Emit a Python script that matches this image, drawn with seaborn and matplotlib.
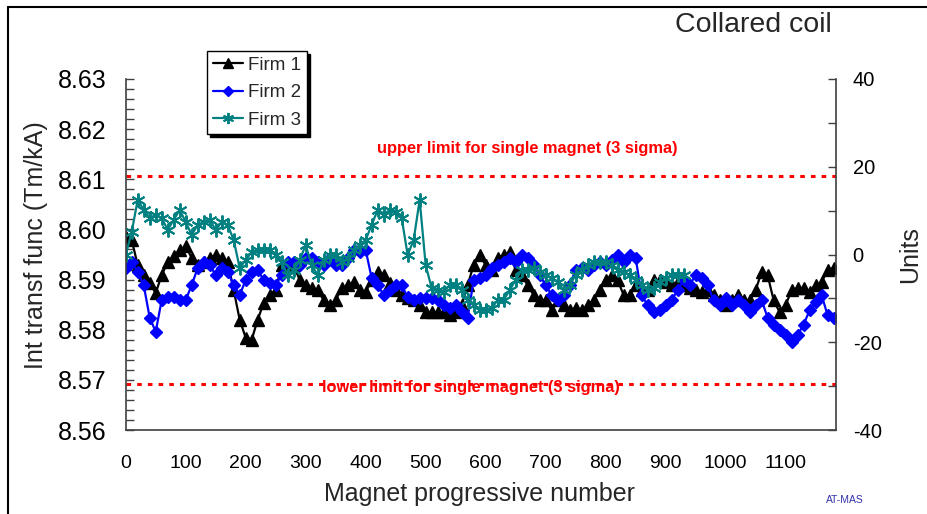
import numpy as np
import pandas as pd
import matplotlib.pyplot as plt
import seaborn as sns
from matplotlib.ticker import MultipleLocator, FormatStrFormatter
from matplotlib.lines import Line2D

# integrated transfer function (Tm/kA), read every 10th magnet
firm1 = [8.5985, 8.5979, 8.5929, 8.5909, 8.5893, 8.5873, 8.5909, 8.5935, 8.5947, 8.5959,
         8.5967, 8.5943, 8.5929, 8.5935, 8.5943, 8.5949, 8.5943, 8.5935, 8.5879, 8.5820,
         8.5784, 8.5780, 8.5820, 8.5853, 8.5869, 8.5879, 8.5929, 8.5929, 8.5929, 8.5899,
         8.5889, 8.5883, 8.5879, 8.5859, 8.5849, 8.5859, 8.5883, 8.5889, 8.5895, 8.5879,
         8.5875, 8.5899, 8.5915, 8.5909, 8.5893, 8.5879, 8.5869, 8.5863, 8.5859, 8.5849,
         8.5835, 8.5835, 8.5835, 8.5835, 8.5829, 8.5835, 8.5849, 8.5889, 8.5929, 8.5949,
         8.5929, 8.5919, 8.5943, 8.5949, 8.5955, 8.5919, 8.5909, 8.5889, 8.5869, 8.5859,
         8.5859, 8.5839, 8.5859, 8.5849, 8.5839, 8.5843, 8.5839, 8.5849, 8.5859, 8.5879,
         8.5899, 8.5909, 8.5899, 8.5869, 8.5869, 8.5889, 8.5879, 8.5879, 8.5899, 8.5899,
         8.5895, 8.5889, 8.5895, 8.5889, 8.5883, 8.5879, 8.5875, 8.5879, 8.5869, 8.5859,
         8.5849, 8.5859, 8.5869, 8.5859, 8.5859, 8.5879, 8.5915, 8.5909, 8.5859, 8.5835,
         8.5849, 8.5879, 8.5883, 8.5883, 8.5875, 8.5889, 8.5895, 8.5919, 8.5923]

firm2 = [8.5923, 8.5935, 8.5915, 8.5889, 8.5824, 8.5796, 8.5859, 8.5865, 8.5865, 8.5859,
         8.5859, 8.5889, 8.5923, 8.5935, 8.5929, 8.5909, 8.5923, 8.5915, 8.5889, 8.5869,
         8.5899, 8.5915, 8.5919, 8.5899, 8.5893, 8.5889, 8.5909, 8.5935, 8.5935, 8.5929,
         8.5943, 8.5943, 8.5935, 8.5929, 8.5943, 8.5929, 8.5929, 8.5943, 8.5959, 8.5955,
         8.5959, 8.5903, 8.5889, 8.5869, 8.5879, 8.5889, 8.5889, 8.5865, 8.5859, 8.5863,
         8.5863, 8.5863, 8.5859, 8.5849, 8.5843, 8.5849, 8.5835, 8.5824, 8.5899, 8.5903,
         8.5909, 8.5923, 8.5929, 8.5935, 8.5943, 8.5935, 8.5949, 8.5943, 8.5929, 8.5909,
         8.5889, 8.5869, 8.5859, 8.5869, 8.5889, 8.5919, 8.5923, 8.5919, 8.5929, 8.5935,
         8.5929, 8.5939, 8.5949, 8.5935, 8.5949, 8.5943, 8.5869, 8.5849, 8.5835, 8.5839,
         8.5849, 8.5859, 8.5879, 8.5899, 8.5889, 8.5909, 8.5903, 8.5889, 8.5859, 8.5849,
         8.5863, 8.5849, 8.5859, 8.5849, 8.5835, 8.5849, 8.5859, 8.5824, 8.5810, 8.5800,
         8.5790, 8.5776, 8.5790, 8.5810, 8.5839, 8.5855, 8.5869, 8.5829, 8.5824]

firm3 = [8.5949, 8.5995, 8.6059, 8.6039, 8.6023, 8.6029, 8.6023, 8.5999, 8.6019, 8.6039,
         8.6015, 8.5989, 8.6009, 8.6015, 8.6019, 8.5999, 8.6015, 8.6009, 8.5979, 8.5923,
         8.5939, 8.5955, 8.5959, 8.5959, 8.5959, 8.5949, 8.5935, 8.5909, 8.5919, 8.5939,
         8.5969, 8.5929, 8.5909, 8.5939, 8.5949, 8.5949, 8.5935, 8.5943, 8.5959, 8.5969,
         8.5979, 8.6009, 8.6039, 8.6029, 8.6039, 8.6035, 8.6023, 8.5949, 8.5979, 8.6059,
         8.5929, 8.5883, 8.5879, 8.5875, 8.5889, 8.5889, 8.5879, 8.5859, 8.5849, 8.5839,
         8.5839, 8.5843, 8.5859, 8.5859, 8.5879, 8.5899, 8.5919, 8.5919, 8.5923, 8.5915,
         8.5909, 8.5903, 8.5895, 8.5879, 8.5889, 8.5909, 8.5919, 8.5929, 8.5935, 8.5935,
         8.5935, 8.5929, 8.5919, 8.5915, 8.5909, 8.5899, 8.5889, 8.5879, 8.5883, 8.5895,
         8.5903, 8.5909, 8.5909, 8.5909]

STEP = 10
upper_limit = 8.6107
lower_limit = 8.5691

sns.set_style("white")
plt.rcParams['font.family'] = ['Liberation Sans', 'DejaVu Sans']
plt.rcParams['axes.unicode_minus'] = False

fig = plt.figure(figsize=(9.28, 5.14), dpi=100)
ax = fig.add_axes([125.7 / 928, 1 - 430 / 514, (836 - 125.7) / 928, 351 / 514])

series = [
    ("Firm 1", firm1, "black", "^", 8.5, 1.0),
    ("Firm 2", firm2, "#0000ff", "D", 6.5, 1.0),
    ("Firm 3", firm3, "#008080", (6, 2, 0), 10, 1.4),
]
for name, vals, col, mk, ms, mew in series:
    df = pd.DataFrame({"magnet": np.arange(len(vals)) * STEP, "tf": vals})
    sns.lineplot(data=df, x="magnet", y="tf", ax=ax, color=col, lw=1.6,
                 marker=mk, markersize=ms, markeredgecolor=col, markerfacecolor=col,
                 markeredgewidth=mew, label=name)

# 3 sigma limits
for lim in (upper_limit, lower_limit):
    ax.axhline(lim, color="red", lw=2.2, ls=(0, (1.5, 2)))
ax.text(670, 8.6162, "upper limit for single magnet (3 sigma)", color="red",
        fontsize=11.8, fontweight="bold", ha="center", va="center")
ax.text(575, 8.5684, "lower limit for single magnet (3 sigma)", color="red",
        fontsize=11.8, fontweight="bold", ha="center", va="center")

ax.set_xlim(0, 1184)
ax.set_ylim(8.56, 8.63)
ax.xaxis.set_major_locator(MultipleLocator(100))
ax.xaxis.set_minor_locator(MultipleLocator(50))
ax.yaxis.set_major_locator(MultipleLocator(0.01))
ax.yaxis.set_minor_locator(MultipleLocator(0.002))
ax.yaxis.set_major_formatter(FormatStrFormatter("%.2f"))
ax.tick_params(axis="y", which="both", direction="in", length=6, width=1,
               labelsize=18, pad=14, colors="#404040", labelcolor="black")
ax.tick_params(axis="x", which="both", direction="in", length=6, width=1,
               labelsize=14, pad=18, colors="#404040", labelcolor="black")
ax.set_xlabel("")
ax.set_ylabel("")
for s in ("top", "right"):
    ax.spines[s].set_visible(False)
for s in ("left", "bottom"):
    ax.spines[s].set_color("#404040")
    ax.spines[s].set_linewidth(1.2)

ax2 = ax.twinx()
ax2.set_ylim(-40, 40)
ax2.yaxis.set_major_locator(MultipleLocator(20))
ax2.yaxis.set_minor_locator(MultipleLocator(10))
ax2.tick_params(axis="y", which="both", direction="in", length=6, width=1,
                labelsize=14.5, pad=12, colors="#404040", labelcolor="black")
for s in ("top", "left", "bottom"):
    ax2.spines[s].set_visible(False)
ax2.spines["right"].set_color("#404040")
ax2.spines["right"].set_linewidth(1.2)

handles, labels = ax.get_legend_handles_labels()
leg = ax.legend(handles, labels, loc="upper left", bbox_to_anchor=(207 / 928, 1 - 51 / 514),
                bbox_transform=fig.transFigure, borderaxespad=0, fontsize=13.5,
                frameon=True, fancybox=False, edgecolor="black", framealpha=1,
                shadow={"color": "black", "alpha": 1}, handlelength=1.6,
                labelspacing=0.55, handletextpad=0.3, borderpad=0.3, markerscale=0.8)
leg.get_frame().set_linewidth(1.0)

fig.text(36 / 928, 1 - 245 / 514, "Int transf func (Tm/kA)", rotation=90,
         ha="center", va="center", fontsize=18)
fig.text(910 / 928, 1 - 255 / 514, "Units", rotation=90, ha="center", va="center", fontsize=18)
fig.text(480 / 928, 1 - 494 / 514, "Magnet progressive number", ha="center", va="center", fontsize=18)
fig.text(832 / 928, 1 - 25 / 514, "Collared coil", ha="right", va="center", fontsize=20.5)
fig.text(845 / 928, 1 - 500 / 514, "AT-MAS", ha="center", va="center", fontsize=7.5, color="#3333aa")

# outer frame
fig.add_artist(Line2D([7.5 / 928, 7.5 / 928], [0, 1 - 6.5 / 514], transform=fig.transFigure,
                      color="black", lw=1.5))
fig.add_artist(Line2D([7.5 / 928, 1], [1 - 6.5 / 514, 1 - 6.5 / 514], transform=fig.transFigure,
                      color="black", lw=1.5))

fig.savefig("out.png", dpi=100)
